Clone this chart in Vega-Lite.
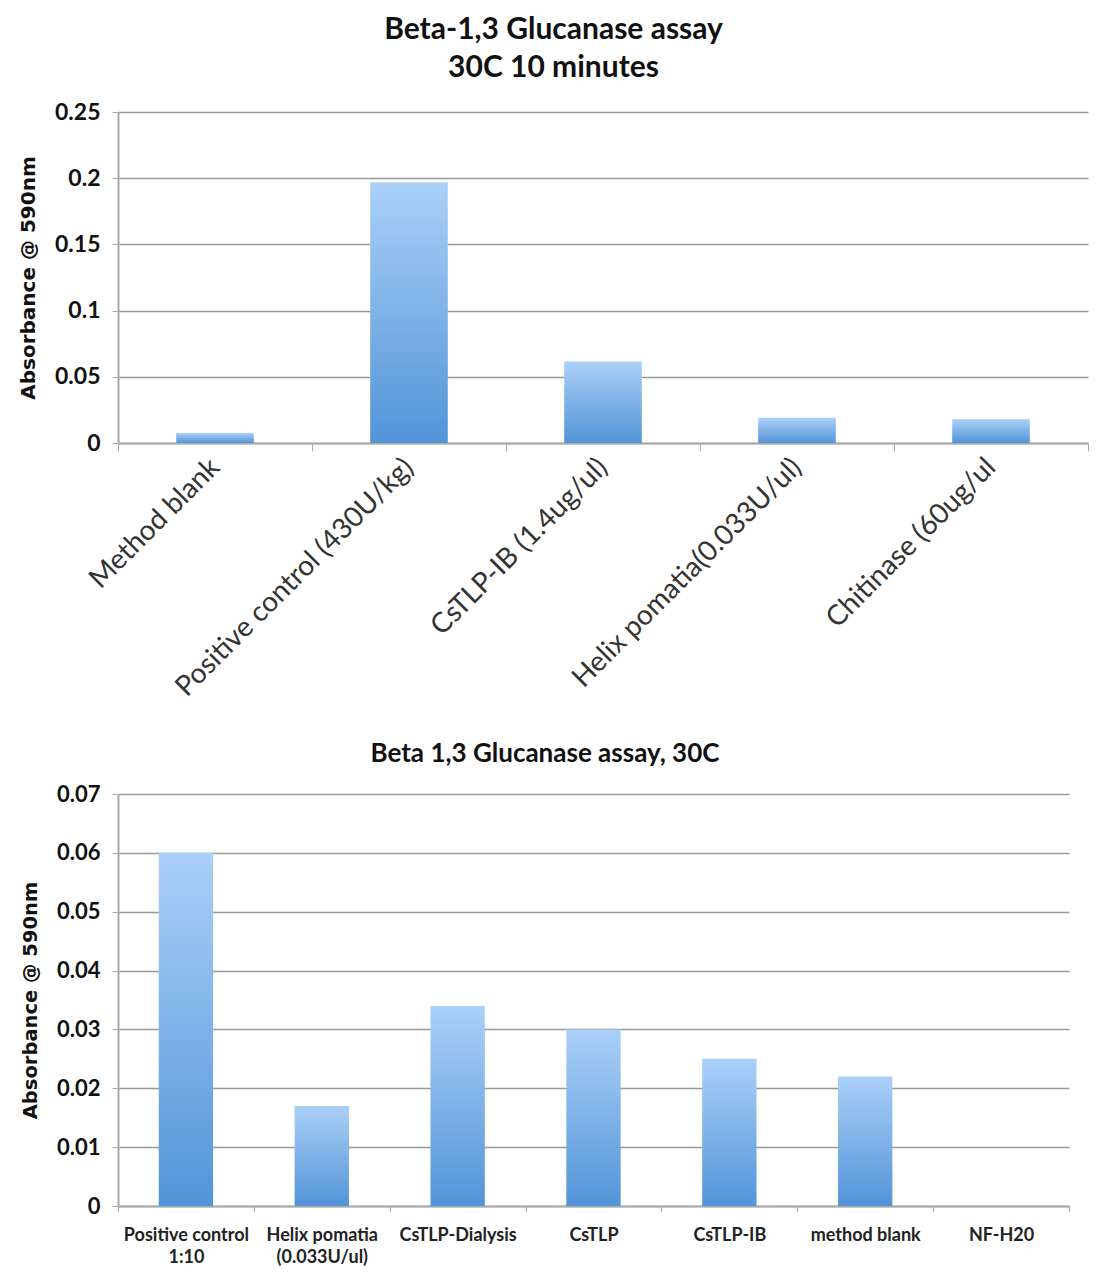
{
  "$schema": "https://vega.github.io/schema/vega-lite/v6.json",
  "background": "white",
  "padding": {"left": 18, "top": 15, "right": 5, "bottom": 5},
  "spacing": 39,
  "datasets": {
    "assay10min": [
      {"sample": "Method blank", "absorbance": 0.0075},
      {"sample": "Positive control (430U/kg)", "absorbance": 0.197},
      {"sample": "CsTLP-IB (1.4ug/ul)", "absorbance": 0.0615},
      {"sample": "Helix pomatia(0.033U/ul)", "absorbance": 0.019},
      {"sample": "Chitinase (60ug/ul", "absorbance": 0.018}
    ],
    "assay30C": [
      {"sample": "Positive control 1:10", "absorbance": 0.06},
      {"sample": "Helix pomatia (0.033U/ul)", "absorbance": 0.017},
      {"sample": "CsTLP-Dialysis", "absorbance": 0.034},
      {"sample": "CsTLP", "absorbance": 0.03},
      {"sample": "CsTLP-IB", "absorbance": 0.025},
      {"sample": "method blank", "absorbance": 0.022},
      {"sample": "NF-H20", "absorbance": 0}
    ]
  },
  "vconcat": [
    {
      "data": {"name": "assay10min"},
      "width": 970,
      "height": 331,
      "title": {
        "text": ["Beta-1,3 Glucanase  assay", "30C 10 minutes"],
        "font": "Lato",
        "fontSize": 30,
        "fontWeight": "bold",
        "color": "#111111",
        "lineHeight": 38,
        "anchor": "middle",
        "frame": "bounds",
        "offset": 18
      },
      "mark": {
        "type": "bar",
        "width": {"band": 0.4},
        "color": {
          "gradient": "linear",
          "x1": 0, "y1": 0, "x2": 0, "y2": 1,
          "stops": [
            {"offset": 0, "color": "#abd0f8"},
            {"offset": 1, "color": "#5294d8"}
          ]
        }
      },
      "encoding": {
        "x": {
          "field": "sample",
          "type": "nominal",
          "sort": null,
          "title": null,
          "scale": {"paddingInner": 0, "paddingOuter": 0},
          "axis": {
            "labelAngle": -45,
            "labelAlign": "right",
            "labelBaseline": "middle",
            "labelFont": "Lato",
            "labelFontSize": 28,
            "labelColor": "#333333",
            "labelPadding": 12,
            "labelLimit": 450,
            "tickBand": "extent",
            "tickSize": 8,
            "tickColor": "#aaaaaa",
            "domainColor": "#aaaaaa",
            "domainWidth": 2
          }
        },
        "y": {
          "field": "absorbance",
          "type": "quantitative",
          "title": "Absorbance @ 590nm",
          "scale": {"domain": [0, 0.25], "nice": false},
          "axis": {
            "values": [0, 0.05, 0.1, 0.15, 0.2, 0.25],
            "labelExpr": "datum.value == 0 ? '0' : format(datum.value, '.2~f')",
            "labelFont": "Lato",
            "labelFontSize": 23,
            "labelFontWeight": "bold",
            "labelColor": "#111111",
            "labelPadding": 12,
            "titleFont": "DejaVu Sans",
            "titleFontSize": 20,
            "titleFontWeight": "bold",
            "titleColor": "#111111",
            "titlePadding": 16,
            "gridColor": "#999999",
            "gridWidth": 1.5,
            "tickColor": "#aaaaaa",
            "tickSize": 6,
            "domainColor": "#aaaaaa",
            "domainWidth": 2
          }
        }
      }
    },
    {
      "data": {"name": "assay30C"},
      "width": 951,
      "height": 412,
      "title": {
        "text": "Beta 1,3 Glucanase assay, 30C",
        "font": "Lato",
        "fontSize": 26,
        "fontWeight": "bold",
        "color": "#111111",
        "anchor": "middle",
        "frame": "bounds",
        "offset": 16
      },
      "mark": {
        "type": "bar",
        "width": {"band": 0.4},
        "color": {
          "gradient": "linear",
          "x1": 0, "y1": 0, "x2": 0, "y2": 1,
          "stops": [
            {"offset": 0, "color": "#abd0f8"},
            {"offset": 1, "color": "#5294d8"}
          ]
        }
      },
      "encoding": {
        "x": {
          "field": "sample",
          "type": "nominal",
          "sort": null,
          "title": null,
          "scale": {"paddingInner": 0, "paddingOuter": 0},
          "axis": {
            "labelAngle": 0,
            "labelExpr": "datum.label == 'Positive control 1:10' ? ['Positive control', '1:10'] : datum.label == 'Helix pomatia (0.033U/ul)' ? ['Helix pomatia', '(0.033U/ul)'] : datum.label",
            "labelFont": "Lato",
            "labelFontSize": 18,
            "labelFontWeight": "bold",
            "labelColor": "#222222",
            "labelLineHeight": 22,
            "labelPadding": 14,
            "tickBand": "extent",
            "tickSize": 6,
            "tickColor": "#aaaaaa",
            "domainColor": "#aaaaaa",
            "domainWidth": 2
          }
        },
        "y": {
          "field": "absorbance",
          "type": "quantitative",
          "title": "Absorbance @ 590nm",
          "scale": {"domain": [0, 0.07], "nice": false},
          "axis": {
            "values": [0, 0.01, 0.02, 0.03, 0.04, 0.05, 0.06, 0.07],
            "labelExpr": "datum.value == 0 ? '0' : format(datum.value, '.2f')",
            "labelFont": "Lato",
            "labelFontSize": 22,
            "labelFontWeight": "bold",
            "labelColor": "#111111",
            "labelPadding": 12,
            "titleFont": "DejaVu Sans",
            "titleFontSize": 19.5,
            "titleFontWeight": "bold",
            "titleColor": "#111111",
            "titlePadding": 16,
            "gridColor": "#999999",
            "gridWidth": 1.5,
            "tickColor": "#aaaaaa",
            "tickSize": 6,
            "domainColor": "#aaaaaa",
            "domainWidth": 2
          }
        }
      }
    }
  ],
  "config": {
    "view": {"stroke": null},
    "axisX": {"grid": false}
  }
}
